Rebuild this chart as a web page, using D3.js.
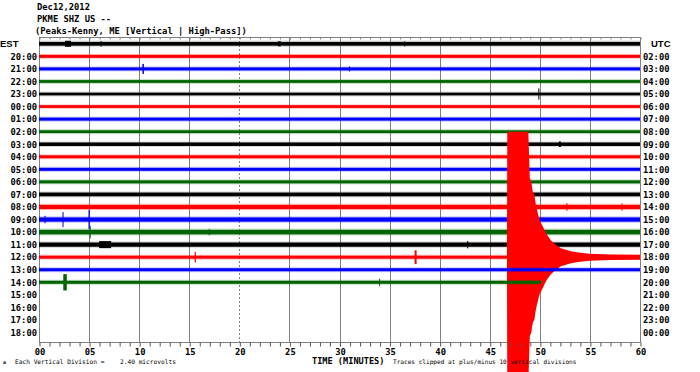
<!DOCTYPE html>
<html>
<head>
<meta charset="utf-8">
<script src="https://cdn.jsdelivr.net/npm/d3@7"></script>
<style>
  body { margin: 0; background: #fff; }
  text { font-family: "DejaVu Sans Mono", monospace; font-weight: bold; fill: #000; }
</style>
</head>
<body>
<div id="container"></div>
<script>
// row labels, left (EST) and right (UTC)
const estLabels = ["EST", "20:00", "21:00", "22:00", "23:00", "00:00", "01:00", "02:00", "03:00", "04:00", "05:00", "06:00",
  "07:00", "08:00", "09:00", "10:00", "11:00", "12:00", "13:00", "14:00", "15:00", "16:00", "17:00", "18:00"];
const utcLabels = ["UTC", "02:00", "03:00", "04:00", "05:00", "06:00", "07:00", "08:00", "09:00", "10:00", "11:00", "12:00",
  "13:00", "14:00", "15:00", "16:00", "17:00", "18:00", "19:00", "20:00", "21:00", "22:00", "23:00", "00:00"];
const minuteTicks = [0, 5, 10, 15, 20, 25, 30, 35, 40, 45, 50, 55, 60];
const traceColors = ["#000000", "#ff0000", "#0000ff", "#006400"];

// background noise half-amplitude of each drawn row, in vertical divisions
const rowNoise = [0.15, 0.12, 0.12, 0.11, 0.11, 0.11, 0.12, 0.11, 0.14, 0.12, 0.12, 0.12, 0.15, 0.17, 0.17, 0.18, 0.17, 0.12, 0.12, 0.12];
// outer fuzz of the noise (occasional peaks), in vertical divisions
const rowPeaks = [0.26, 0.2, 0.2, 0.2, 0.2, 0.18, 0.2, 0.2, 0.22, 0.2, 0.2, 0.2, 0.24, 0.26, 0.26, 0.28, 0.26, 0.2, 0.2, 0.2];
// minute where each row's trace stops
const rowEnd = [60, 60, 60, 60, 60, 60, 60, 60, 60, 60, 60, 60, 60, 60, 60, 60, 60, 60, 60, 50.1];

// local events: [row, minute, half-amplitude (divisions), duration (minutes)]
const spikes = [
  [0, 2.9, 0.24, 0.6], [0, 6.2, 0.22, 0.1], [0, 24.0, 0.2, 0.3], [0, 36.5, 0.2, 0.1],
  [2, 10.4, 0.4, 0.15], [2, 31.0, 0.2, 0.1],
  [4, 49.9, 0.45, 0.1],
  [8, 52.0, 0.22, 0.2],
  [13, 52.7, 0.3, 0.1], [13, 58.2, 0.28, 0.1],
  [14, 2.4, 0.6, 0.1], [14, 5.0, 0.75, 0.12], [14, 0.6, 0.3, 0.1],
  [15, 5.1, 0.5, 0.08], [15, 17.0, 0.25, 0.1],
  [16, 6.6, 0.28, 1.2], [16, 42.8, 0.3, 0.1],
  [17, 15.6, 0.42, 0.12], [17, 37.6, 0.55, 0.2],
  [19, 2.6, 0.65, 0.35], [19, 34.0, 0.28, 0.1]
];

// earthquake in the 12:00 row: [minute, half-amplitude (divisions)]
const quakeRow = 17;
const quakeEnvelope = [
  [46.72, 0.13], [46.75, 10], [48.85, 10], [48.95, 7.5], [49.0, 6.3], [49.15, 6.0], [49.3, 5.2], [49.45, 5.0],
  [49.6, 4.2], [49.8, 3.5], [50.0, 2.9], [50.3, 2.45], [50.5, 2.1], [50.7, 1.8], [51.1, 1.35], [51.6, 1.0],
  [52.1, 0.72], [53.1, 0.48], [54.0, 0.36], [55.0, 0.28], [57.0, 0.22], [60.0, 0.2]
];
const clipDivisions = 10;

const width = 700;
const height = 372;
const plot = { left: 39, right: 640, top: 37, bottom: 342 };

const svg = d3.select("#container")
              .append("svg")
              .attr("width", width)
              .attr("height", height);
svg.append("rect").attr("width", width).attr("height", height).attr("fill", "#fff");

const xScale = d3.scaleLinear().domain([0, 60]).range([plot.left, plot.right]);
const yScale = d3.scaleLinear().domain([0, 23]).range([43.8, 332.5]);
const division = yScale(1) - yScale(0);
const ampScale = d3.scaleLinear().domain([0, 1]).range([0, division]);

// header
const header = ["Dec12,2012", "PKME SHZ US --", "(Peaks-Kenny, ME [Vertical | High-Pass])"];
svg.append("g")
   .selectAll("text")
   .data(header)
   .enter()
   .append("text")
   .attr("x", (d, i) => i == 2 ? 35 : 37)
   .attr("y", (d, i) => 10 + i * 11.8)
   .style("font-size", "8.8px")
   .text((d) => d);

// grid lines
svg.append("g")
   .selectAll("line")
   .data(minuteTicks.filter((d) => d > 0 && d < 60))
   .enter()
   .append("line")
   .attr("x1", (d) => Math.round(xScale(d)) + 0.5)
   .attr("x2", (d) => Math.round(xScale(d)) + 0.5)
   .attr("y1", plot.top)
   .attr("y2", plot.bottom)
   .attr("stroke", "#808080")
   .attr("stroke-dasharray", (d) => d == 20 ? "2,2" : null);

// frame
svg.append("rect")
   .attr("x", plot.left + 0.5)
   .attr("y", plot.top + 0.5)
   .attr("width", plot.right - plot.left)
   .attr("height", plot.bottom - plot.top)
   .attr("fill", "none")
   .attr("stroke", "#808080");

// top minute ticks
const topAxis = d3.axisTop(xScale).tickValues(d3.range(0, 61)).tickSize(-2).tickFormat("");
svg.append("g")
   .attr("transform", "translate(0.5, " + (plot.top + 0.5) + ")")
   .call(topAxis)
   .call((g) => g.select(".domain").remove())
   .selectAll("line").attr("stroke", "#808080");

// traces
const rows = svg.append("g").attr("id", "traces");
const quakeArea = d3.area()
                    .x((d) => xScale(d[0]))
                    .y0((d) => yScale(quakeRow) - ampScale(Math.min(d[1], clipDivisions)))
                    .y1((d) => yScale(quakeRow) + ampScale(Math.min(d[1], clipDivisions)));

rowNoise.forEach((noise, r) => {
  const g = rows.append("g");
  const color = traceColors[r % 4];
  // faint fuzz of small peaks around the trace
  g.append("rect")
   .attr("x", xScale(0))
   .attr("width", xScale(rowEnd[r]) - xScale(0))
   .attr("y", yScale(r) - ampScale(rowPeaks[r]))
   .attr("height", 2 * ampScale(rowPeaks[r]))
   .attr("fill", r % 4 == 0 ? "#555" : color)
   .attr("opacity", 0.22);
  g.append("rect")
   .attr("x", xScale(0))
   .attr("width", xScale(rowEnd[r]) - xScale(0))
   .attr("y", yScale(r) - ampScale(noise))
   .attr("height", 2 * ampScale(noise))
   .attr("fill", color);
  g.selectAll("rect.spike")
   .data(spikes.filter((d) => d[0] == r))
   .enter()
   .append("rect")
   .attr("class", "spike")
   .attr("x", (d) => xScale(d[1] - d[3] / 2))
   .attr("width", (d) => Math.max(1, xScale(d[3]) - xScale(0)))
   .attr("y", (d) => yScale(r) - ampScale(d[2]))
   .attr("height", (d) => 2 * ampScale(d[2]))
   .attr("fill", color);
  if (r == quakeRow) {
    g.append("path")
     .datum(quakeEnvelope)
     .attr("d", quakeArea)
     .attr("fill", color);
  }
});

// row labels
svg.append("g")
   .selectAll("text")
   .data(estLabels)
   .enter()
   .append("text")
   .attr("x", (d, i) => i == 0 ? 0 : 37)
   .attr("y", (d, i) => yScale(i) + 3.3)
   .attr("text-anchor", (d, i) => i == 0 ? "start" : "end")
   .style("font-size", (d, i) => i == 0 ? "9.5px" : "8.8px")
   .style("font-family", (d, i) => i == 0 ? "'Liberation Sans', sans-serif" : null)
   .text((d) => d);
svg.append("g")
   .selectAll("text")
   .data(utcLabels)
   .enter()
   .append("text")
   .attr("x", (d, i) => i == 0 ? 651 : 643)
   .attr("y", (d, i) => yScale(i) + 3.3)
   .style("font-size", (d, i) => i == 0 ? "9.5px" : "8.8px")
   .style("font-family", (d, i) => i == 0 ? "'Liberation Sans', sans-serif" : null)
   .text((d) => d);

// bottom axis
const xAxis = d3.axisBottom(xScale)
                .tickValues(d3.range(0, 61))
                .tickSize(4)
                .tickPadding(2)
                .tickFormat((d) => d % 5 == 0 ? d3.format("02d")(d) : "");
svg.append("g")
   .attr("id", "x-axis")
   .attr("transform", "translate(0.5, " + (plot.bottom + 0.5) + ")")
   .call(xAxis)
   .call((g) => g.select(".domain").remove())
   .call((g) => g.selectAll("line").attr("stroke", "#555"))
   .call((g) => g.selectAll("text").style("font-size", "8.8px").attr("fill", "#000"));

// footer
svg.append("text").attr("x", 3).attr("y", 364).style("font-size", "5px").text("a");
svg.append("text").attr("x", 15).attr("y", 364).style("font-size", "6.2px").style("font-weight", "normal")
   .text("Each Vertical Division =");
svg.append("text").attr("x", 120).attr("y", 364).style("font-size", "6.2px").style("font-weight", "normal")
   .text("2.40 microvolts");
svg.append("text").attr("x", 312).attr("y", 364).style("font-size", "8.6px")
   .text("TIME (MINUTES)");
svg.append("text").attr("x", 393).attr("y", 364).style("font-size", "6.1px").style("font-weight", "normal")
   .text("Traces clipped at plus/minus 10 vertical divisions");
</script>
</body>
</html>
